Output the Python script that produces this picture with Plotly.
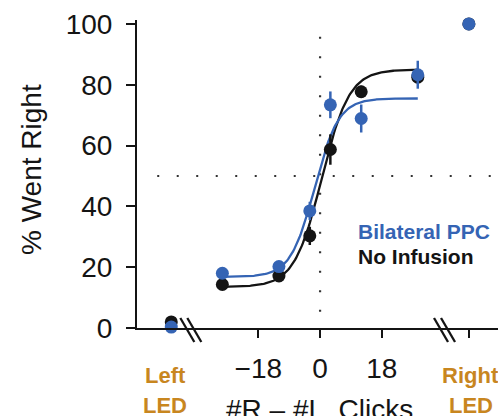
import numpy as np
import plotly.graph_objects as go

# ---------------- data ----------------
click_bins = [-28.5, -12, -3, 3, 12, 28.5]
no_infusion = [14.3, 17.1, 30.3, 58.7, 77.7, 82.5]
no_infusion_err = [1.5, 1.5, 3.0, 5.0, 2.0, 2.0]
bilateral_ppc = [18.0, 20.2, 38.5, 73.4, 68.9, 83.3]
bilateral_ppc_err = [1.5, 1.5, 3.0, 4.4, 4.6, 4.6]

led_x = [-43.4, 43.4]           # Left LED, Right LED
no_infusion_led = [2.0, 100.0]
bilateral_ppc_led = [0.3, 100.0]

# logistic fit parameters: [low, high, x0, scale]
fit_no_infusion = [13.5, 85.0, 0.5, 4.0]
fit_bilateral = [16.8, 75.5, -1.6, 3.5]

y_ticks = [0, 20, 40, 60, 80, 100]
x_ticks = [-18, 0, 18]
x_tick_text = ["\u221218", "0", "18"]
break_x = [-37.7, 36.3]
chance_level = 50

BLUE = "#3564B4"
BLACK = "#141414"
ORANGE = "#C8861F"
FONT = "Liberation Sans, Arial, sans-serif"

W, H = 498, 416
L, R, T, B = 137, 0, 20, 88
X_RANGE = [-53.4, 51.9]
Y_RANGE = [0, 101.3]


def logistic(p, x):
    lo, hi, x0, s = p
    return lo + (hi - lo) / (1.0 + np.exp(-(x - x0) / s))


xs = np.linspace(click_bins[0], click_bins[-1], 200)

fig = go.Figure()
fig.add_trace(go.Scatter(x=xs, y=logistic(fit_no_infusion, xs), mode="lines",
                         line=dict(color=BLACK, width=2.3), hoverinfo="skip"))
fig.add_trace(go.Scatter(x=xs, y=logistic(fit_bilateral, xs), mode="lines",
                         line=dict(color=BLUE, width=2.3), hoverinfo="skip"))
fig.add_trace(go.Scatter(x=click_bins, y=no_infusion, mode="markers",
                         marker=dict(color=BLACK, size=13),
                         error_y=dict(type="data", array=no_infusion_err, color=BLACK,
                                      thickness=2.5, width=0),
                         cliponaxis=False))
fig.add_trace(go.Scatter(x=led_x, y=no_infusion_led, mode="markers",
                         marker=dict(color=BLACK, size=13), cliponaxis=False))
fig.add_trace(go.Scatter(x=click_bins, y=bilateral_ppc, mode="markers",
                         marker=dict(color=BLUE, size=13),
                         error_y=dict(type="data", array=bilateral_ppc_err, color=BLUE,
                                      thickness=2.5, width=0),
                         cliponaxis=False))
fig.add_trace(go.Scatter(x=led_x, y=bilateral_ppc_led, mode="markers",
                         marker=dict(color=BLUE, size=13), cliponaxis=False))

shapes = []
# chance reference lines (dotted)
shapes.append(dict(type="line", xref="x", yref="y", x0=-47.5, x1=X_RANGE[1],
                   y0=chance_level, y1=chance_level, layer="below",
                   line=dict(color="#333333", width=2.2, dash="2px,17.5px")))
shapes.append(dict(type="line", xref="x", yref="y", x0=0, x1=0,
                   y0=95.8, y1=0, layer="below",
                   line=dict(color="#333333", width=2.2, dash="2px,17.5px")))
# axis break marks "\\" (yref paper so they are not clipped at the axis)
for bx in break_x:
    for off in (-3.5, 3.5):
        shapes.append(dict(type="line", xref="x", yref="paper",
                           xsizemode="pixel", ysizemode="pixel",
                           xanchor=bx, yanchor=0,
                           x0=off - 7, x1=off + 7, y0=10, y1=-14,
                           line=dict(color=BLACK, width=2.3)))

annotations = []
annotations.append(dict(text="% Went Right", textangle=-90, xref="paper", yref="paper",
                        x=0, y=0.513, xshift=-105, xanchor="center", yanchor="middle",
                        showarrow=False, font=dict(family=FONT, size=28, color=BLACK)))
annotations.append(dict(text="#R \u2013 #L  Clicks", xref="x", yref="paper",
                        x=0, y=0, xshift=-1, yshift=-64, xanchor="center", yanchor="top",
                        showarrow=False, font=dict(family=FONT, size=28, color=BLACK)))
for lx, shift in ((led_x[0], -6), (led_x[1], 2)):
    annotations.append(dict(text="<b>%s</b>" % ("Left" if lx < 0 else "Right"),
                            xref="x", yref="paper", x=lx, y=0, xshift=shift, yshift=-33,
                            xanchor="center", yanchor="top", showarrow=False,
                            font=dict(family=FONT, size=22, color=ORANGE)))
    annotations.append(dict(text="<b>LED</b>",
                            xref="x", yref="paper", x=lx, y=0, xshift=shift, yshift=-63,
                            xanchor="center", yanchor="top", showarrow=False,
                            font=dict(family=FONT, size=22, color=ORANGE)))
annotations.append(dict(text="<b>Bilateral PPC</b>", xref="x", yref="y", x=10.5, y=31.9,
                        xanchor="left", yanchor="middle", showarrow=False,
                        font=dict(family=FONT, size=21, color=BLUE)))
annotations.append(dict(text="<b>No Infusion</b>", xref="x", yref="y", x=10.5, y=23.4,
                        xanchor="left", yanchor="middle", showarrow=False,
                        font=dict(family=FONT, size=21, color=BLACK)))

fig.update_layout(
    width=W, height=H, margin=dict(l=L, r=R, t=T, b=B, pad=0),
    paper_bgcolor="white", plot_bgcolor="white", showlegend=False,
    shapes=shapes, annotations=annotations,
    font=dict(family=FONT, size=28, color=BLACK),
    xaxis=dict(range=X_RANGE, showgrid=False, zeroline=False, showline=True,
               linecolor=BLACK, linewidth=2, ticks="outside", ticklen=8, tickwidth=2,
               tickcolor=BLACK, tickvals=x_ticks + [led_x[1]],
               ticktext=x_tick_text + [""], tickfont=dict(size=28),
               ticklabelstandoff=6),
    yaxis=dict(range=Y_RANGE, showgrid=False, zeroline=False, showline=True,
               linecolor=BLACK, linewidth=2, ticks="outside", ticklen=9, tickwidth=2,
               tickcolor=BLACK, tickvals=y_ticks, tickfont=dict(size=28),
               ticklabelstandoff=8),
)

fig.write_html("out.html")
